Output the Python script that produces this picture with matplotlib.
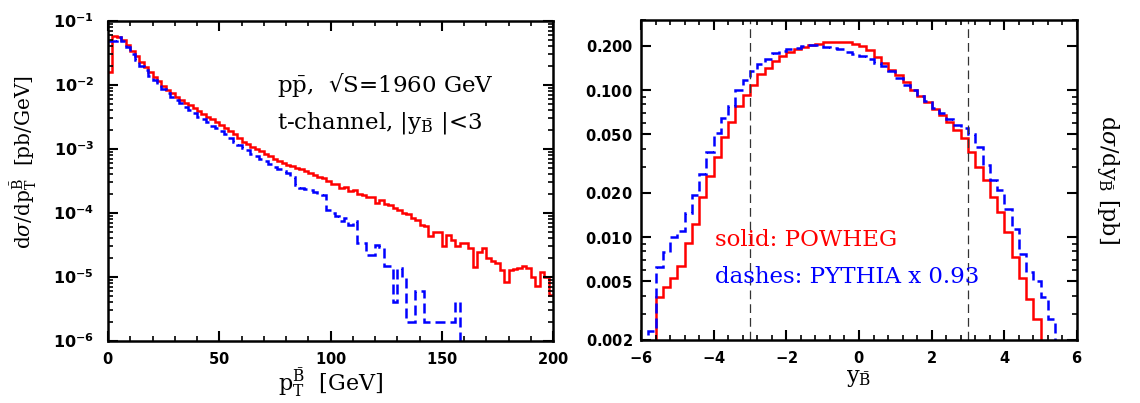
import numpy as np
import matplotlib
matplotlib.use('Agg')
import matplotlib.pyplot as plt
from matplotlib.ticker import FixedLocator, MultipleLocator, LogLocator, FuncFormatter, NullFormatter

plt.rcParams['font.family'] = 'DejaVu Serif'
plt.rcParams['mathtext.fontset'] = 'custom'
plt.rcParams['mathtext.rm'] = 'DejaVu Serif'
plt.rcParams['mathtext.it'] = 'DejaVu Serif:italic'
plt.rcParams['mathtext.bf'] = 'DejaVu Sans:bold'

# pT of the B-bar, 2 GeV bins from 0 to 200
pt_edges = np.linspace(0, 200, 101)
pt_powheg = [
    1.6e-2, 5.8e-2, 5.7e-2, 5.0e-2, 4.2e-2, 3.4e-2, 2.8e-2, 2.3e-2, 1.9e-2, 1.6e-2,
    1.35e-2, 1.15e-2, 9.8e-3, 8.5e-3, 7.5e-3, 6.6e-3, 5.9e-3, 5.3e-3, 4.8e-3, 4.3e-3,
    3.9e-3, 3.5e-3, 3.2e-3, 2.9e-3, 2.6e-3, 2.4e-3, 2.15e-3, 1.9e-3, 1.7e-3, 1.5e-3,
    1.3e-3, 1.2e-3, 1.08e-3, 1.0e-3, 9.2e-4, 8.4e-4, 7.8e-4, 7.1e-4, 6.6e-4, 6.0e-4,
    5.7e-4, 5.4e-4, 5.0e-4, 4.8e-4, 4.5e-4, 4.2e-4, 3.9e-4, 3.7e-4, 3.5e-4, 3.2e-4,
    2.8e-4, 2.85e-4, 2.45e-4, 2.55e-4, 2.2e-4, 2.3e-4, 2.0e-4, 1.9e-4, 1.8e-4, 1.75e-4,
    1.45e-4, 1.6e-4, 1.38e-4, 1.32e-4, 1.2e-4, 1.12e-4, 1.0e-4, 9.5e-5, 8.5e-5, 7.8e-5,
    6.6e-5, 6.2e-5, 4.3e-5, 5.0e-5, 5.0e-5, 3.0e-5, 4.6e-5, 3.8e-5, 3.0e-5, 3.4e-5,
    3.4e-5, 2.8e-5, 1.45e-5, 2.5e-5, 2.8e-5, 2.0e-5, 1.75e-5, 1.65e-5, 1.3e-5, 8.3e-6,
    1.3e-5, 1.35e-5, 1.38e-5, 1.48e-5, 1.4e-5, 1.0e-5, 7.2e-6, 1.2e-5, 1.0e-5, 5.2e-6,
]
pt_pythia = [
    4.8e-2, 4.9e-2, 5.6e-2, 4.8e-2, 3.9e-2, 3.0e-2, 2.5e-2, 2.0e-2, 1.7e-2, 1.4e-2,
    1.2e-2, 1.02e-2, 8.8e-3, 7.6e-3, 6.6e-3, 5.8e-3, 5.2e-3, 4.6e-3, 4.1e-3, 3.6e-3,
    3.2e-3, 2.9e-3, 2.6e-3, 2.3e-3, 2.1e-3, 1.9e-3, 1.7e-3, 1.5e-3, 1.3e-3, 1.15e-3,
    1.05e-3, 9.5e-4, 8.5e-4, 7.8e-4, 7.0e-4, 6.4e-4, 5.8e-4, 5.2e-4, 4.9e-4, 4.6e-4,
    4.2e-4, 3.6e-4, 2.7e-4, 2.5e-4, 2.4e-4, 2.3e-4, 2.1e-4, 2.0e-4, 1.9e-4, 1.1e-4,
    1.0e-4, 9.0e-5, 7.5e-5, 8.5e-5, 6.5e-5, 7.5e-5, 3.4e-5, 3.4e-5, 2.2e-5, 2.2e-5,
    3.2e-5, 2.9e-5, 1.5e-5, 1.5e-5, 4.0e-6, 1.4e-5, 1.0e-5, 2.0e-6, 2.0e-6, 6.0e-6,
    6.0e-6, 2.0e-6, 2.0e-6, 2.0e-6, 2.0e-6, 2.0e-6, 2.0e-6, 2.0e-6, 4.0e-6, 0,
    0, 0, 0, 0, 0, 0, 0, 0, 0, 0,
    0, 0, 0, 0, 0, 0, 0, 0, 0, 0,
]

# rapidity of the B-bar, 0.2 bins from -6 to 6
y_edges = np.linspace(-6, 6, 61)
y_powheg = [
    0.0015, 0.0018, 0.0039, 0.0046, 0.0053, 0.0064, 0.0092, 0.0123, 0.0188, 0.026,
    0.035, 0.048, 0.061, 0.078, 0.093, 0.109, 0.128, 0.142, 0.158, 0.172,
    0.182, 0.190, 0.197, 0.202, 0.207, 0.211, 0.214, 0.214, 0.211, 0.205,
    0.199, 0.188, 0.169, 0.154, 0.138, 0.126, 0.113, 0.101, 0.091, 0.083,
    0.075, 0.068, 0.061, 0.054, 0.047, 0.038, 0.030, 0.0244, 0.0188, 0.0148,
    0.0108, 0.0073, 0.0053, 0.0038, 0.00276, 0.0015, 0.0010, 0.0007, 0.0005, 0.0003,
]
y_pythia = [
    0.0015, 0.0023, 0.0063, 0.0079, 0.0101, 0.0111, 0.0146, 0.0193, 0.027, 0.038,
    0.051, 0.065, 0.0785, 0.101, 0.118, 0.135, 0.150, 0.164, 0.178, 0.185,
    0.190, 0.195, 0.199, 0.202, 0.203, 0.197, 0.195, 0.190, 0.182, 0.176,
    0.171, 0.162, 0.154, 0.146, 0.135, 0.121, 0.109, 0.100, 0.091, 0.084,
    0.0757, 0.070, 0.0637, 0.058, 0.0552, 0.050, 0.041, 0.031, 0.0244, 0.0208,
    0.0156, 0.0114, 0.0077, 0.0058, 0.0050, 0.0039, 0.0028, 0.0015, 0.0010, 0.0007,
]
y_cuts = [-3, 3]
y_majors = [0.002, 0.005, 0.01, 0.02, 0.05, 0.1, 0.2]


def positive(v):
    # empty bins fall off the bottom of the log axis
    v = np.asarray(v, dtype=float)
    return np.where(v > 0, v, 1e-12)


def style_axes(ax):
    for s in ax.spines.values():
        s.set_linewidth(1.8)
    ax.tick_params(which='both', direction='in', top=True, right=True)
    ax.tick_params(which='major', length=7, width=1.5)
    ax.tick_params(which='minor', length=3.5, width=1.2)


bold = FuncFormatter(lambda v, p: r'$\mathbf{%g}$' % v)

fig = plt.figure(figsize=(11.4, 4.03), dpi=100)
ax1 = fig.add_axes([108 / 1140, 1 - 341 / 403, 445 / 1140, 320 / 403])
ax2 = fig.add_axes([641 / 1140, 1 - 340 / 403, 436 / 1140, 320 / 403])

# left panel: pT spectrum
ax1.stairs(positive(pt_powheg), pt_edges, baseline=None, color='#ff0000', lw=1.8)
ax1.stairs(positive(pt_pythia), pt_edges, baseline=None, color='#0000ff', lw=1.8,
           linestyle=(0, (4, 2)))
ax1.set_yscale('log')
ax1.set_xlim(0, 200)
ax1.set_ylim(1e-6, 1e-1)
ax1.xaxis.set_major_locator(MultipleLocator(50))
ax1.xaxis.set_minor_locator(MultipleLocator(10))
ax1.xaxis.set_major_formatter(bold)
ax1.yaxis.set_major_locator(LogLocator(base=10))
ax1.yaxis.set_minor_locator(LogLocator(base=10, subs=np.arange(2, 10)))
ax1.yaxis.set_minor_formatter(NullFormatter())
ax1.yaxis.set_major_formatter(FuncFormatter(
    lambda v, p: r'$\mathbf{10^{%d}}$' % round(np.log10(v))))
style_axes(ax1)
ax1.tick_params(axis='x', labelsize=10.5, pad=7)
ax1.tick_params(axis='y', labelsize=11.5, pad=10)
ax1.set_xlabel(r'$\mathrm{p}_\mathrm{T}^{\bar{\mathrm{B}}}$  [GeV]', fontsize=16)
ax1.xaxis.set_label_coords(0.5, -0.08)
ax1.set_ylabel(r'd$\sigma$/d$\mathrm{p}_\mathrm{T}^{\bar{\mathrm{B}}}$  [pb/GeV]', fontsize=14.5)
ax1.yaxis.set_label_coords(-0.155, 0.56)
ax1.text(0.38, 0.80, r'p$\bar{\mathrm{p}}$,  √S=1960 GeV', transform=ax1.transAxes,
         fontsize=16.5, va='center')
ax1.text(0.38, 0.68, r't-channel, |y$_{\bar{\mathrm{B}}}$ |<3', transform=ax1.transAxes,
         fontsize=16.5, va='center')

# right panel: rapidity
ax2.stairs(positive(y_powheg), y_edges, baseline=None, color='#ff0000', lw=1.8)
ax2.stairs(positive(y_pythia), y_edges, baseline=None, color='#0000ff', lw=1.8,
           linestyle=(0, (4, 2)))
for c in y_cuts:
    ax2.axvline(c, color='#333333', lw=0.9, linestyle=(0, (7, 4)))
ax2.set_yscale('log')
ax2.set_xlim(-6, 6)
ax2.set_ylim(0.002, 0.3)
ax2.xaxis.set_major_locator(MultipleLocator(2))
ax2.xaxis.set_minor_locator(MultipleLocator(0.4))
ax2.xaxis.set_major_formatter(bold)
ax2.yaxis.set_major_locator(FixedLocator(y_majors))
ax2.yaxis.set_minor_locator(LogLocator(base=10, subs=np.arange(1, 10)))
ax2.yaxis.set_minor_formatter(NullFormatter())
ax2.yaxis.set_major_formatter(FuncFormatter(lambda v, p: r'$\mathbf{%.3f}$' % v))
style_axes(ax2)
ax2.tick_params(axis='x', labelsize=10.5, pad=7)
ax2.tick_params(axis='y', labelsize=10.5, pad=6)
ax2.set_xlabel(r'$\mathrm{y}_{\bar{\mathrm{B}}}$', fontsize=16)
ax2.xaxis.set_label_coords(0.5, -0.085)
ax2.set_ylabel(r'd$\sigma$/d$\mathrm{y}_{\bar{\mathrm{B}}}$ [pb]', fontsize=16,
               rotation=270, va='center')
ax2.yaxis.set_label_position('right')
ax2.yaxis.set_label_coords(1.1, 0.5)
ax2.text(0.17, 0.3125, 'solid: POWHEG', color='#ff0000', transform=ax2.transAxes,
         fontsize=16.5, va='center')
ax2.text(0.17, 0.197, 'dashes: PYTHIA x 0.93', color='#0000ff', transform=ax2.transAxes,
         fontsize=16.5, va='center')

fig.savefig('out.png', dpi=100)
